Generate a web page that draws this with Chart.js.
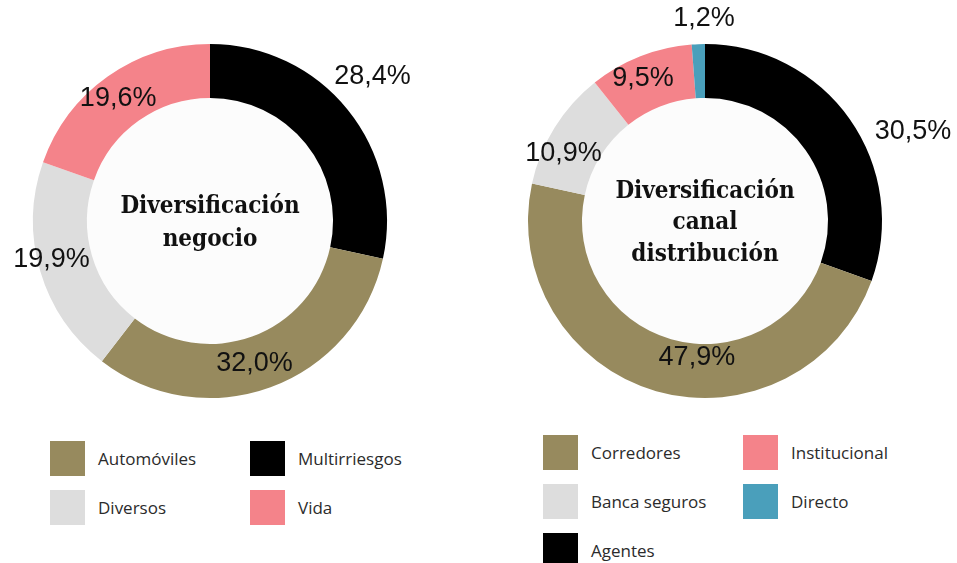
<!DOCTYPE html>
<html><head><meta charset="utf-8">
<script src="https://cdn.jsdelivr.net/npm/chart.js@4.4.1/dist/chart.umd.min.js"></script>
<style>
html,body{margin:0;padding:0;background:#fff;}
#wrap{position:relative;width:957px;height:563px;overflow:hidden;background:#fff;}
canvas{position:absolute;top:0;}
.legend{position:absolute;display:grid;font-family:'Open Sans',sans-serif;font-size:17px;color:#2b2b2b;row-gap:14px;}
.item{display:flex;align-items:center;height:35px;white-space:nowrap;}
.box{width:35px;height:35px;margin-right:13px;flex:none;}
</style></head>
<body><div id="wrap">
<canvas id="c1" width="478" height="430" style="left:0px"></canvas>
<canvas id="c2" width="479" height="430" style="left:478px"></canvas>
<div id="leg1" class="legend" style="left:50px;top:441px;grid-template-columns:200px 200px;"></div>
<div id="leg2" class="legend" style="left:543px;top:435px;grid-template-columns:200px 200px;grid-template-rows:repeat(3,35px);grid-auto-flow:column;"></div>
</div>
<script>
// ---- data ----
const negocioLabels = ['Multirriesgos', 'Automóviles', 'Diversos', 'Vida'];
const negocioValues = [28.4, 32.0, 19.9, 19.6];
const negocioColors = ['#000000', '#978a5e', '#dddddd', '#f4838a'];
const negocioLegendOrder = ['Automóviles', 'Multirriesgos', 'Diversos', 'Vida'];
const negocioTitle = ['Diversificación', 'negocio'];

const canalLabels = ['Agentes', 'Corredores', 'Banca seguros', 'Institucional', 'Directo'];
const canalValues = [30.5, 47.9, 10.9, 9.5, 1.2];
const canalColors = ['#000000', '#978a5e', '#dddddd', '#f4838a', '#4a9fbb'];
const canalLegendOrder = ['Corredores', 'Banca seguros', 'Agentes', 'Institucional', 'Directo'];
const canalTitle = ['Diversificación', 'canal', 'distribución'];

// ---- plugin: center fill, title and value labels ----
const donutDecor = {
  id: 'donutDecor',
  beforeDatasetsDraw(chart, args, opts) {
    const arc = chart.getDatasetMeta(0).data[0];
    if (!arc) return;
    const ctx = chart.ctx;
    ctx.save();
    ctx.beginPath();
    ctx.arc(arc.x, arc.y, arc.innerRadius, 0, Math.PI * 2);
    ctx.fillStyle = '#fcfcfc';
    ctx.fill();
    ctx.restore();
  },
  afterDatasetsDraw(chart, args, opts) {
    const meta = chart.getDatasetMeta(0);
    const values = chart.data.datasets[0].data;
    const ctx = chart.ctx;
    ctx.save();
    // title
    const a0 = meta.data[0];
    ctx.fillStyle = '#111';
    ctx.textAlign = 'center';
    ctx.textBaseline = 'middle';
    ctx.font = 'bold 24px "DejaVu Serif Condensed", "DejaVu Serif", serif';
    const lines = opts.title || [];
    const lh = opts.lineHeight || 32;
    const y0 = a0.y - (lines.length - 1) * lh / 2 + (opts.titleShift || 0);
    lines.forEach((t, i) => ctx.fillText(t, a0.x, y0 + i * lh));
    // value labels
    ctx.font = '27px "Liberation Sans", Arial, sans-serif';
    ctx.fillStyle = '#111';
    meta.data.forEach((el, i) => {
      const p = (opts.place || [])[i] || {r: el.outerRadius + 30, da: 0};
      const mid = (el.startAngle + el.endAngle) / 2 + p.da * Math.PI / 180;
      const x = el.x + p.r * Math.cos(mid);
      const y = el.y + p.r * Math.sin(mid);
      ctx.fillText(values[i].toFixed(1).replace('.', ',') + '%', x, y + 1);
    });
    ctx.restore();
  }
};

function makeDonut(id, labels, values, colors, title, pad, place, lineHeight, titleShift) {
  return new Chart(document.getElementById(id), {
    type: 'doughnut',
    data: { labels: labels, datasets: [{ data: values, backgroundColor: colors, borderWidth: 0, hoverOffset: 0 }] },
    options: {
      responsive: false,
      animation: false,
      cutout: '69.5%',
      layout: { padding: pad },
      plugins: {
        legend: { display: false },
        tooltip: { enabled: false },
        donutDecor: { title: title, place: place, lineHeight: lineHeight, titleShift: titleShift }
      }
    },
    plugins: [donutDecor]
  });
}

const ch1 = makeDonut('c1', negocioLabels, negocioValues, negocioColors, negocioTitle,
  { left: 33, top: 44, right: 91, bottom: 32 },
  [{r: 218, da: -3}, {r: 148, da: 2.5}, {r: 163, da: 3}, {r: 154, da: -1.3}], 33, 2);
const ch2 = makeDonut('c2', canalLabels, canalValues, canalColors, canalTitle,
  { left: 50, top: 44, right: 75, bottom: 32 },
  [{r: 227, da: 11.5}, {r: 136, da: -12.6}, {r: 157, da: -6.2}, {r: 156, da: -2}, {r: 203, da: 1.9}], 31.5, 2);

function buildLegend(divId, chart, order) {
  const div = document.getElementById(divId);
  const labels = chart.data.labels;
  const colors = chart.data.datasets[0].backgroundColor;
  order.forEach(name => {
    const i = labels.indexOf(name);
    const item = document.createElement('div');
    item.className = 'item';
    const box = document.createElement('div');
    box.className = 'box';
    box.style.background = colors[i];
    const txt = document.createElement('span');
    txt.textContent = name;
    item.appendChild(box); item.appendChild(txt);
    div.appendChild(item);
  });
}
buildLegend('leg1', ch1, negocioLegendOrder);
buildLegend('leg2', ch2, canalLegendOrder);
</script>
</body></html>
